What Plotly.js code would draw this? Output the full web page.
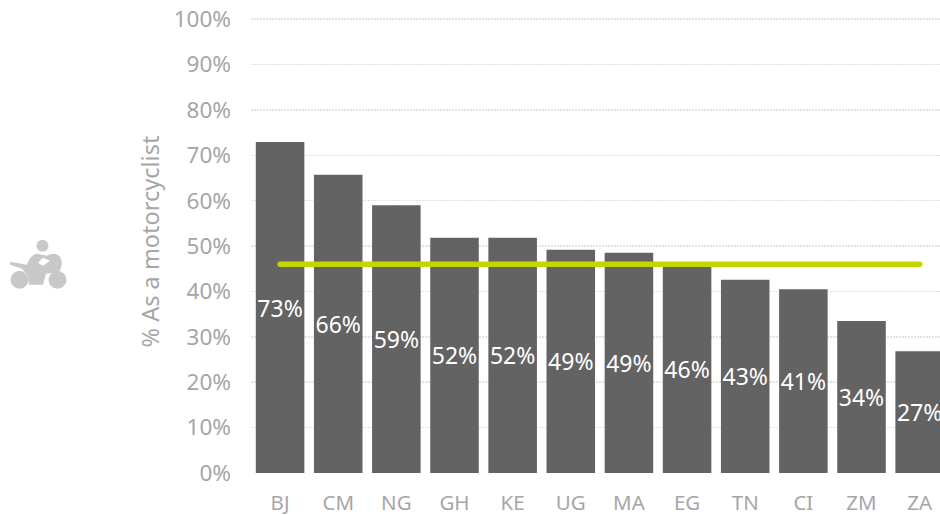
<!DOCTYPE html>
<html><head><meta charset="utf-8">
<script src="https://cdn.plot.ly/plotly-3.0.1.min.js"></script>
<style>html,body{margin:0;padding:0;background:#fff;overflow:hidden}#c{width:940px;height:515px}
.scatterlayer path.js-line{stroke-linecap:round}</style>
</head><body><div id="c"></div>
<script>
const countries = ["BJ","CM","NG","GH","KE","UG","MA","EG","TN","CI","ZM","ZA"];
const shares = [72.9,65.7,59,51.8,51.8,49.2,48.5,46,42.6,40.5,33.5,26.8];
const labels = ["73%","66%","59%","52%","52%","49%","49%","46%","43%","41%","34%","27%"];
const average = [46,46,46,46,46,46,46,46,46,46,46,46];
const yTicks = [0,10,20,30,40,50,60,70,80,90,100];
const yTickLabels = ["0%","10%","20%","30%","40%","50%","60%","70%","80%","90%","100%"];

const FONT = '"Noto Sans", sans-serif';
const icon = `<svg xmlns="http://www.w3.org/2000/svg" width="80" height="70" viewBox="0 0 80 70">
<defs><filter id="b" x="-10%" y="-10%" width="120%" height="120%"><feGaussianBlur stdDeviation="0.6"/></filter></defs>
<g fill="#c8c8c8" filter="url(#b)">
<circle cx="42.5" cy="16" r="6"/>
<circle cx="19.5" cy="50" r="9"/>
<circle cx="57.5" cy="50" r="9"/>
<path fill-rule="evenodd" d="M10 32 L27 35 C29 29 32 25 37 24 L47 26 C51 23 57 23 60 27 C63 31 62 38 59 42 L46 44 L43 55 L29 55 L28 46 L22 39 L10 35 Z M38 33 L43 28 L50 31 L43 36 Z"/>
</g></svg>`;

Plotly.newPlot('c', [
  {type:'bar', x:countries, y:shares, text:labels, textposition:'inside', insidetextanchor:'middle',
   textangle:0, constraintext:'none', cliponaxis:true,
   textfont:{family:FONT,size:23,color:'#ffffff'},
   marker:{color:'#636363',line:{width:0}}, hoverinfo:'x+y', showlegend:false},
  {type:'scatter', mode:'lines', x:countries, y:average,
   line:{color:'#c4d600',width:5.5}, hoverinfo:'y', showlegend:false}
], {
  width:940, height:515, paper_bgcolor:'#fff', plot_bgcolor:'#fff',
  margin:{l:251,r:0,t:9.9,b:41.5,pad:0},
  bargap:0.165, showlegend:false, font:{family:FONT,color:'#a6a6a6'},
  xaxis:{type:'category', categoryorder:'array', categoryarray:countries, range:[-0.5,11.35], fixedrange:true,
    showgrid:false, showline:false, zeroline:false, ticks:'', ticklabelstandoff:15,
    tickfont:{family:FONT,size:20.5,color:'#a6a6a6'}},
  yaxis:{range:[0,102], tickvals:yTicks, ticktext:yTickLabels, fixedrange:true,
    showgrid:true, gridcolor:'#e2e2e2', griddash:'2px,1px', gridwidth:1.5, zeroline:false, showline:false,
    ticks:'', ticklabelstandoff:19,
    tickfont:{family:FONT,size:22.5,color:'#a6a6a6'},
    title:{text:'% As a motorcyclist', standoff:7, font:{family:FONT,size:23.5,color:'#a6a6a6'}}},
  images:[{source:'data:image/svg+xml;charset=utf-8,'+encodeURIComponent(icon),
    xref:'paper', yref:'paper', xanchor:'left', yanchor:'top', sizing:'contain', layer:'above',
    x:(0-251)/689, y:(515-41.5-230)/463.6, sizex:80/689, sizey:70/463.6}]
}, {displayModeBar:false, staticPlot:true});
</script></body></html>
